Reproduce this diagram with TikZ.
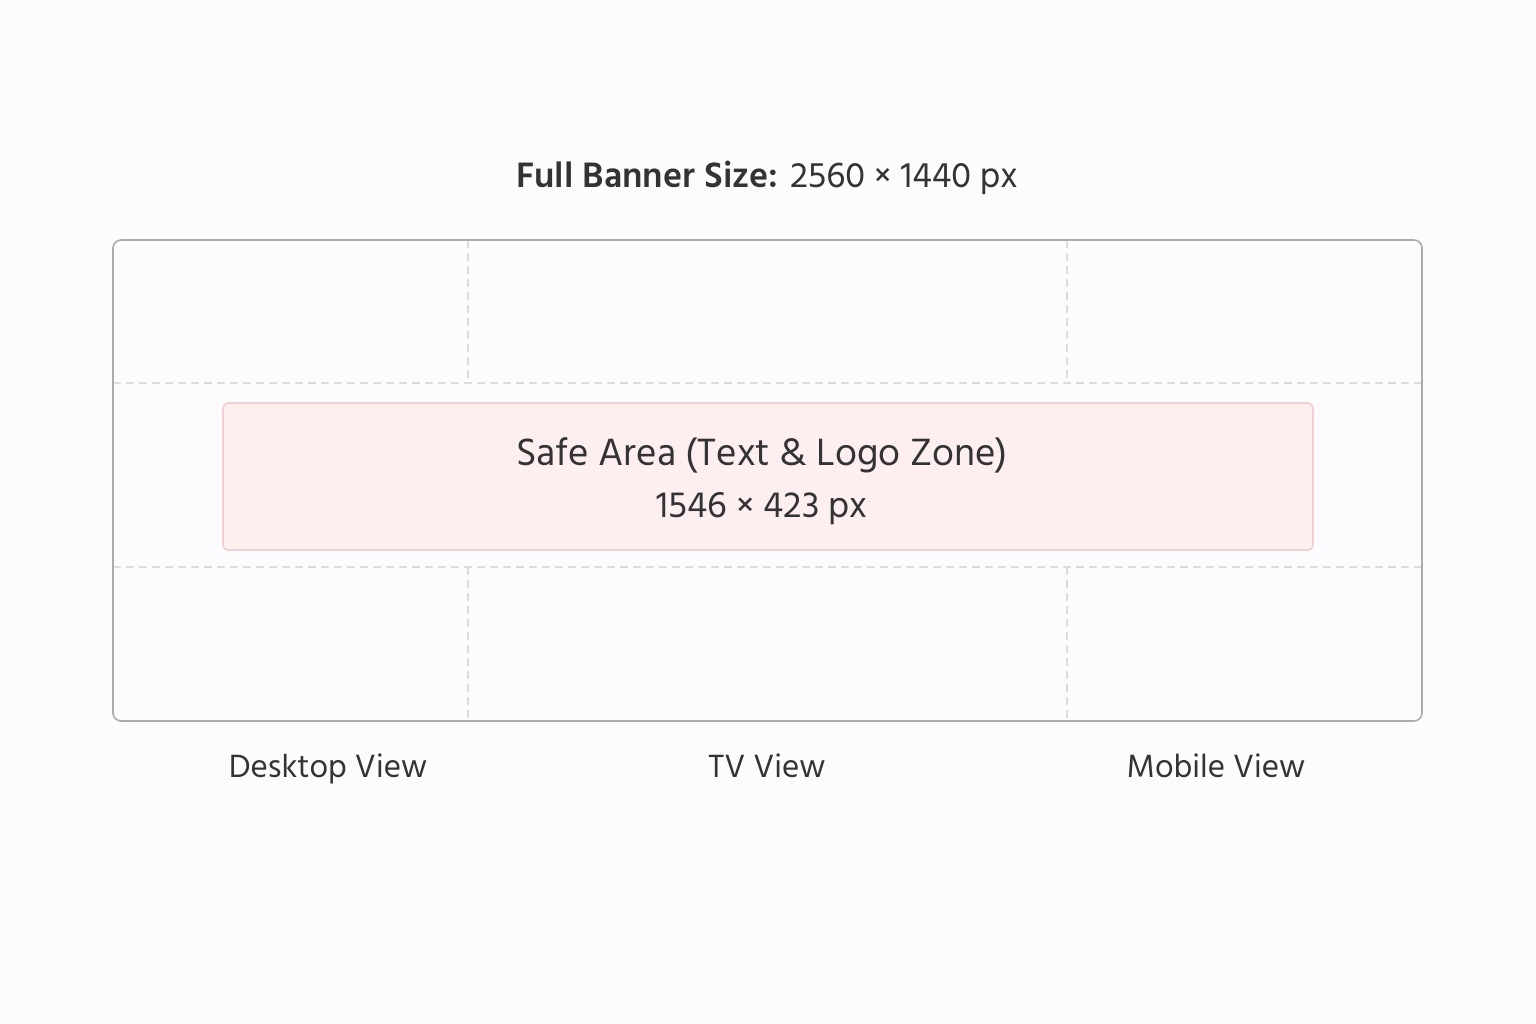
\documentclass[tikz,border=0pt]{standalone}
\usepackage{fontspec}
\setmainfont{Hind Madurai}
\definecolor{pagebg}{HTML}{FCFBFD}
\definecolor{frameline}{HTML}{ABABAE}
\definecolor{gridline}{HTML}{DCDBDF}
\definecolor{safefill}{HTML}{FDEEF0}
\definecolor{safeline}{HTML}{F2CFD4}
\definecolor{ink}{HTML}{333335}
\tikzset{
  banner/.style={draw=frameline, line width=0.45pt, rounded corners=0.8mm},
  guide/.style={draw=gridline, line width=0.45pt, dash pattern=on 0.08cm off 0.05cm},
  safebox/.style={draw=safeline, fill=safefill, line width=0.45pt, rounded corners=0.5mm},
  caption/.style={text=ink, font=\fontsize{9.4}{11}\selectfont, inner sep=0pt, anchor=base},
}
\begin{document}
\begin{tikzpicture}[x=0.01cm, y=-0.01cm]
  % page
  \fill[pagebg] (0,0) rectangle (1536,1024);
  \useasboundingbox (0,0) rectangle (1536,1024);
  % title
  \node[text=ink, inner sep=0pt, anchor=base, font=\fontsize{10.3}{12}\selectfont] (title) at (767,187)
    {\textbf{Full Banner Size:} 2560 × 1440 px};
  % guides
  \coordinate (tl) at (113,240);
  \coordinate (br) at (1422,721);
  \draw[guide] (113,383) -- (1422,383);
  \draw[guide] (113,567) -- (1422,567);
  \draw[guide] (468,240) -- (468,383);
  \draw[guide] (1067,240) -- (1067,383);
  \draw[guide] (468,567) -- (468,721);
  \draw[guide] (1067,567) -- (1067,721);
  % frame
  \draw[banner] (tl) rectangle (br);
  % safe area
  \draw[safebox] (223,403) rectangle (1313,550);
  \node[text=ink, inner sep=0pt, anchor=base, font=\fontsize{11.1}{13}\selectfont] (safe) at (762,465)
    {Safe Area (Text \& Logo Zone)};
  \node[text=ink, inner sep=0pt, anchor=base, font=\fontsize{10.6}{12}\selectfont] (safesize) at (762,517)
    {1546 × 423 px};
  % views
  \node[caption] (desktop) at (328,777) {Desktop View};
  \node[caption] (tv) at (767,777) {TV View};
  \node[caption] (mobile) at (1216,777) {Mobile View};
\end{tikzpicture}
\end{document}
